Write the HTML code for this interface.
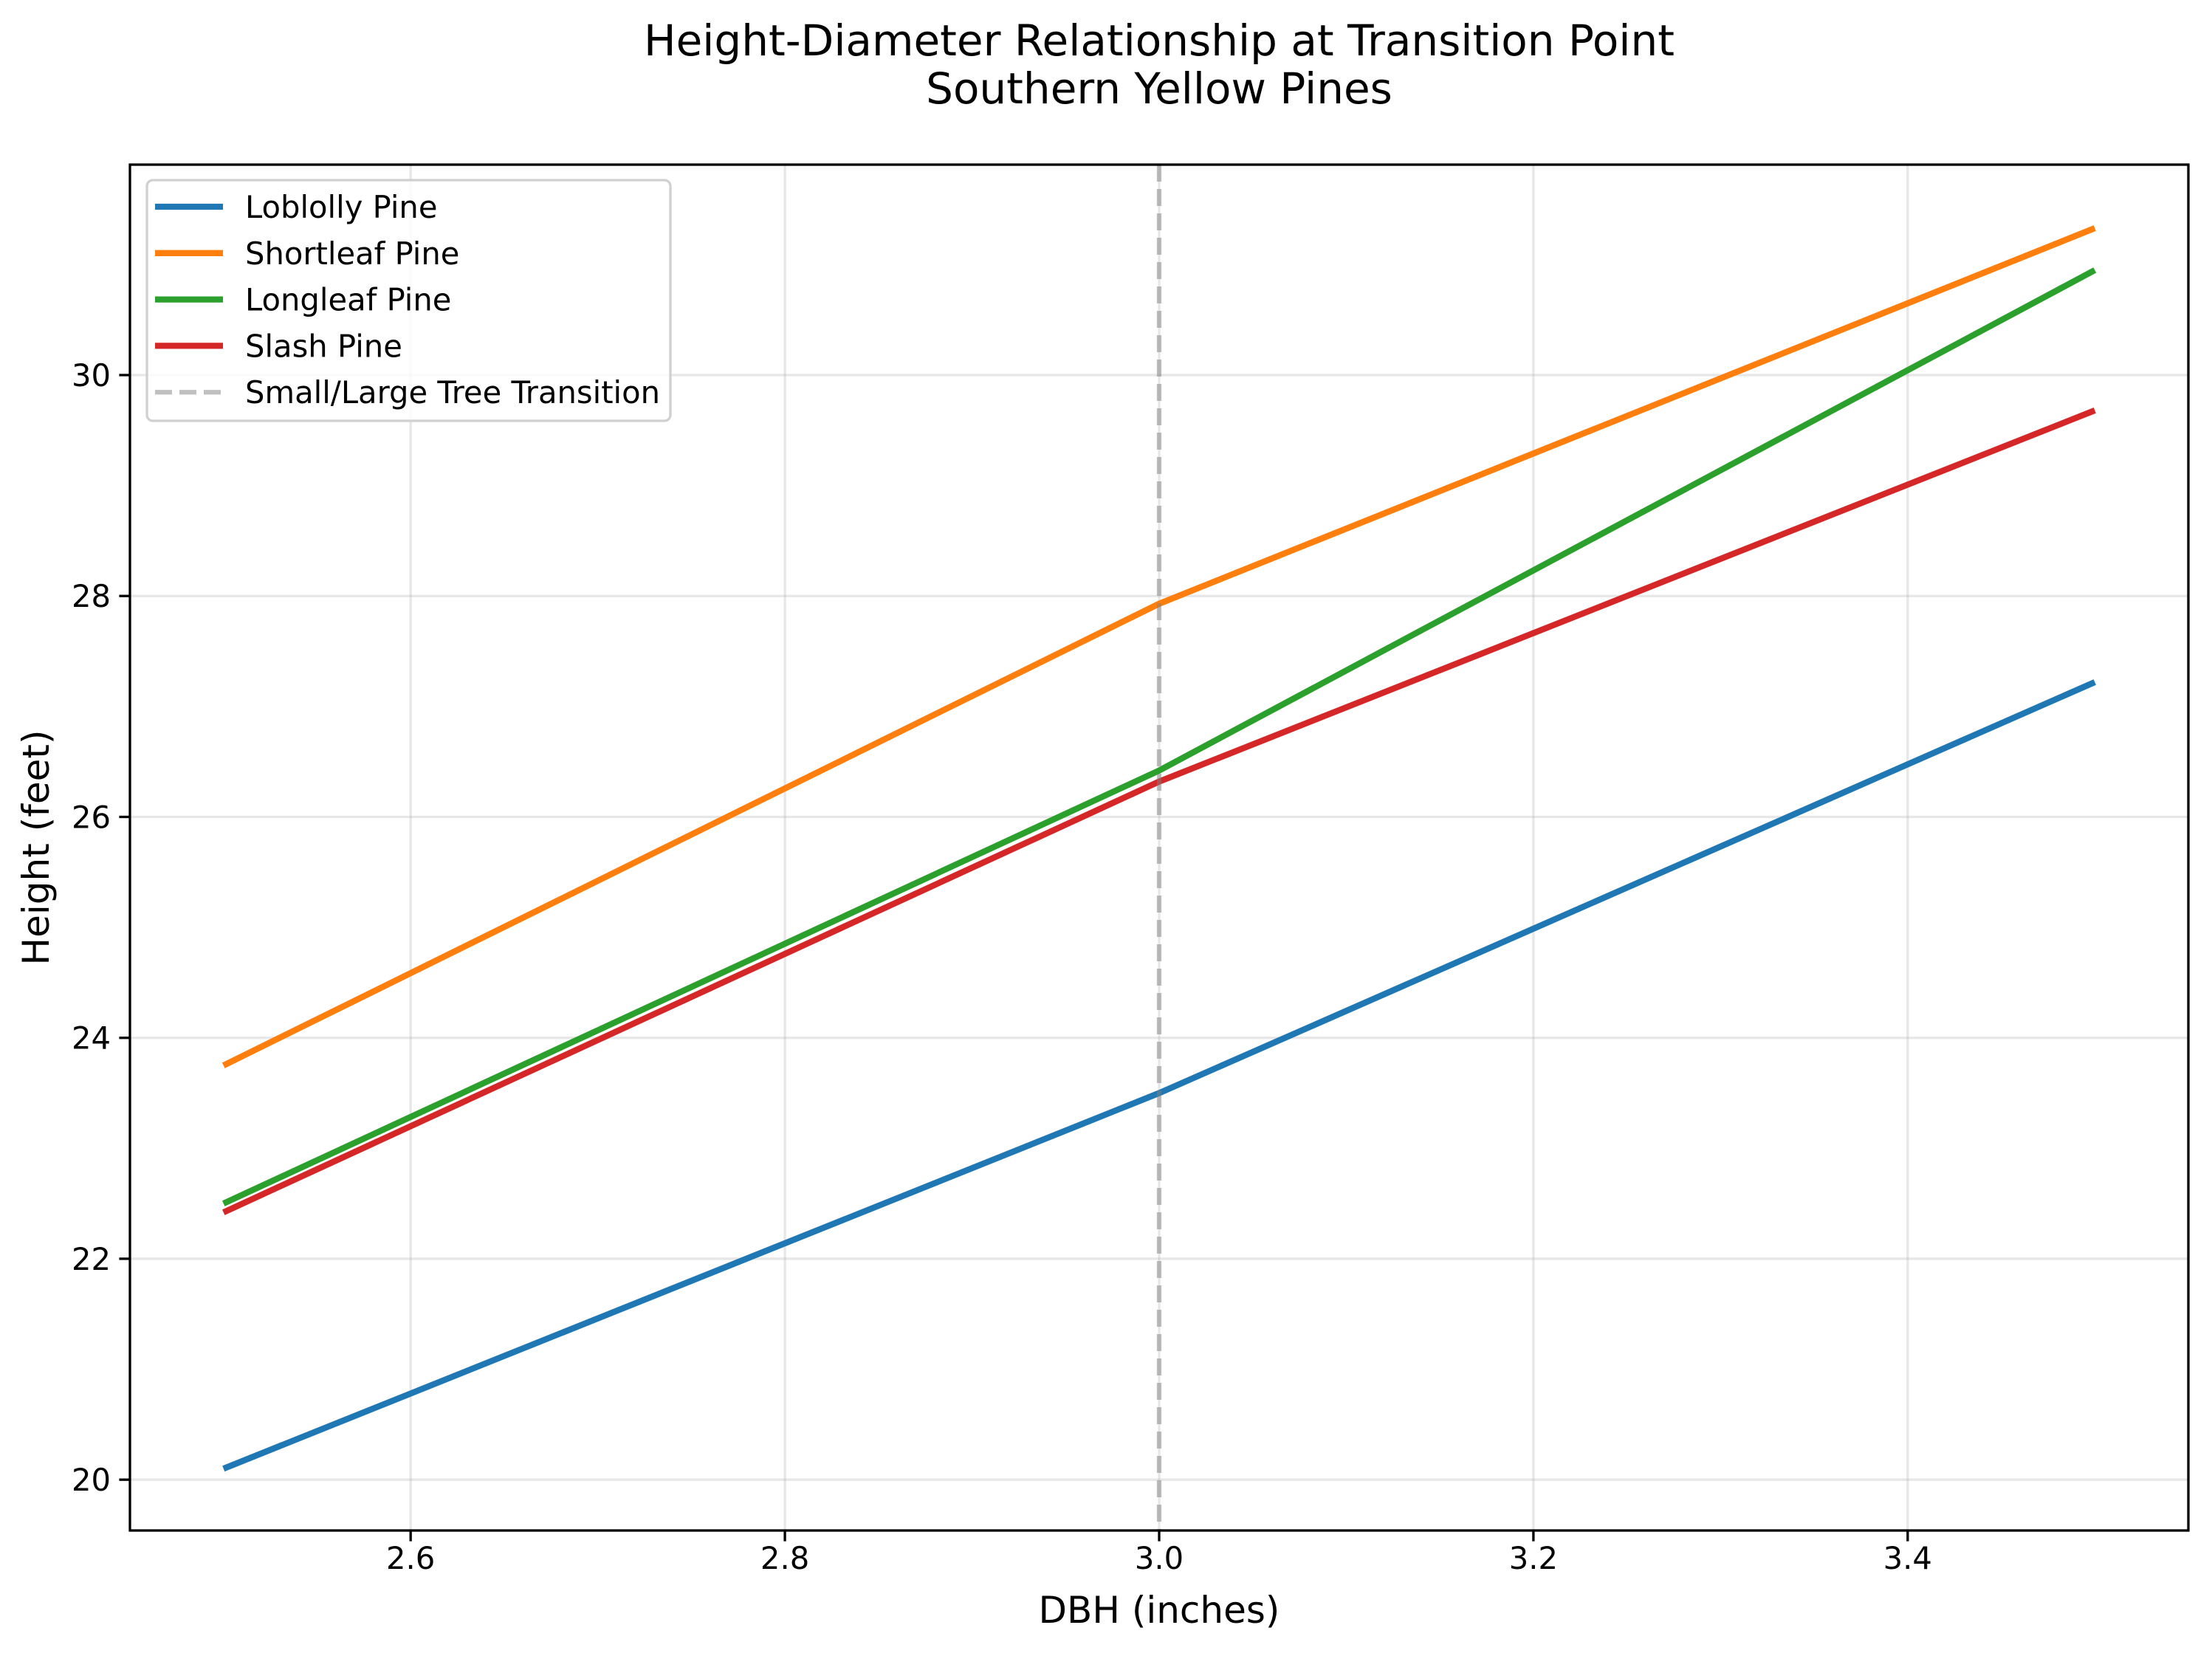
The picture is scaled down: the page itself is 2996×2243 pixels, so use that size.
<!DOCTYPE html>
<html><head><meta charset="utf-8"><style>
body{margin:0;background:#fff}
svg text{font-family:"DejaVu Sans","Liberation Sans",sans-serif;fill:#000}
</style></head><body>
<svg id="chart" width="2996" height="2238" viewBox="0 0 2996 2238" xmlns="http://www.w3.org/2000/svg">
<rect width="2996" height="2238" fill="#fff"/>
<g id="grid"></g>
<g id="series"></g>
<g id="axes"></g>
<text x="1570" y="75" font-size="58" text-anchor="middle">Height-Diameter Relationship at Transition Point</text>
<text x="1570" y="140" font-size="58" text-anchor="middle">Southern Yellow Pines</text>
<text x="1570" y="2198" font-size="50" text-anchor="middle">DBH (inches)</text>
<text x="0" y="0" font-size="50" text-anchor="middle" transform="translate(66,1148) rotate(-90)">Height (feet)</text>
<g id="legend"></g>
</svg>
<script>
const dbh = [2.5, 3.0, 3.5];
const loblolly = [20.1, 23.5, 27.22];
const shortleaf = [23.75, 27.93, 31.33];
const longleaf = [22.5, 26.42, 30.95];
const slash = [22.42, 26.32, 29.68];
const seriesNames = ["Loblolly Pine","Shortleaf Pine","Longleaf Pine","Slash Pine"];
const xTicks = [2.6, 2.8, 3.0, 3.2, 3.4];
const yTicks = [20, 22, 24, 26, 28, 30];
const transitionX = 3.0;

const L=176,R=2964,T=223,B=2073;
const xMin=2.45,xMax=3.55,yMin=19.54,yMax=31.905;
const X=v=>L+(v-xMin)/(xMax-xMin)*(R-L);
const Y=v=>B-(v-yMin)/(yMax-yMin)*(B-T);
const NS="http://www.w3.org/2000/svg";
function mk(tag,attrs,parent){const e=document.createElementNS(NS,tag);for(const k in attrs)e.setAttribute(k,attrs[k]);parent.appendChild(e);return e;}
const grid=document.getElementById('grid'),axes=document.getElementById('axes'),ser=document.getElementById('series'),leg=document.getElementById('legend');
xTicks.forEach(t=>{
  const g=mk('line',{x1:X(t),x2:X(t),y1:T,y2:B,stroke:'#b0b0b0','stroke-opacity':0.3,'stroke-width':3.3},grid);
  
  
  const tk=mk('line',{x1:X(t),x2:X(t),y1:B,y2:B+14.6,stroke:'#000','stroke-width':3.3},axes);
  
  
  const tx=mk('text',{x:X(t),y:B+52,'font-size':41.7,'text-anchor':'middle'},axes);
  tx.textContent=t.toFixed(1);
  
  
});
yTicks.forEach(t=>{
  const g=mk('line',{x1:L,x2:R,y1:Y(t),y2:Y(t),stroke:'#b0b0b0','stroke-opacity':0.3,'stroke-width':3.3},grid);
  
  
  const tk=mk('line',{x1:L-14.6,x2:L,y1:Y(t),y2:Y(t),stroke:'#000','stroke-width':3.3},axes);
  
  
  const tx=mk('text',{x:L-26,y:Y(t)+15,'font-size':41.7,'text-anchor':'end'},axes);
  tx.textContent=t;
  
  
});
const colors=['#1f77b4','#ff7f0e','#2ca02c','#d62728'];
[loblolly,shortleaf,longleaf,slash].forEach((s,i)=>{
  const p=mk('polyline',{points:s.map((v,j)=>X(dbh[j])+','+Y(v)).join(' '),fill:'none',stroke:colors[i],'stroke-width':8.3},ser);
  
  
});
const vl=mk('line',{x1:X(transitionX),x2:X(transitionX),y1:T,y2:B,stroke:'#808080','stroke-opacity':0.5,'stroke-width':6.25,'stroke-dasharray':'23 10'},ser);


const fr=mk('rect',{x:L,y:T,width:R-L,height:B-T,fill:'none',stroke:'#000','stroke-width':3.3},axes);


// legend
const lb=mk('rect',{x:199,y:244,width:709,height:326,rx:8,fill:'#fff','fill-opacity':0.8,stroke:'#d0d0d0','stroke-width':3.3},leg);


const labels=seriesNames.concat(['Small/Large Tree Transition']);
labels.forEach((n,i)=>{
  const y=280+i*62.8;
  const isT=i===4;
  const hl=mk('line',{x1:210,x2:302,y1:y,y2:y,stroke:isT?'#808080':colors[i],'stroke-opacity':isT?0.5:1,'stroke-width':isT?6.25:8.3,'stroke-dasharray':isT?'23 10':'none'},leg);
  
  
  const t=mk('text',{x:332,y:y+15,'font-size':41.7},leg);
  t.textContent=n;
  
  
});
</script>
</body></html>
